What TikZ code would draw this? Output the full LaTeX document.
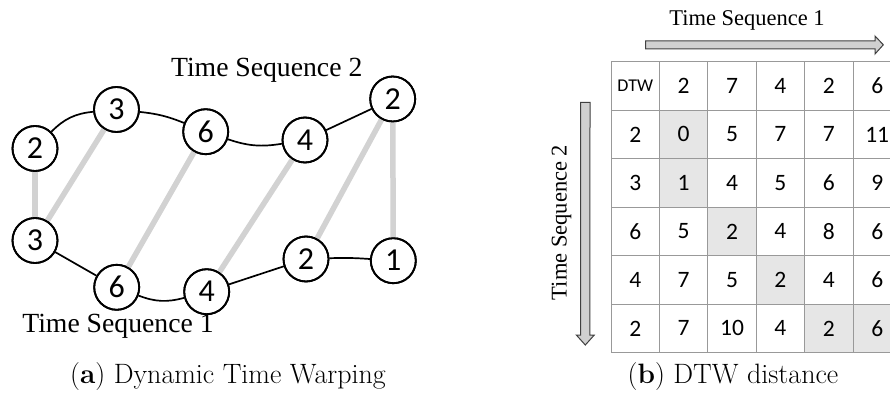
\documentclass[tikz,border=0pt]{standalone}
\usepackage{fontspec}
\newfontfamily\timesfont{Liberation Serif}
\newfontfamily\calibrifont{Carlito}
\begin{document}
\begin{tikzpicture}[x=1pt,y=1pt,
  seqnode/.style={circle,draw=black,line width=1.8pt,minimum size=45pt,inner sep=0pt,
    font=\calibrifont\fontsize{32}{32}\selectfont},
  seqlink/.style={line width=1.7pt,black},
  warp/.style={line width=5.5pt,draw=warpgray},
  seqlabel/.style={font=\timesfont\fontsize{27.7}{28}\selectfont,inner sep=0pt},
  axislabel/.style={font=\timesfont\fontsize{22.5}{23}\selectfont,inner sep=0pt},
  caption/.style={font=\fontsize{28}{29}\selectfont,inner sep=0pt},
  cell/.style={draw=gridgray,line width=0.9pt,minimum width=48.4pt,minimum height=48.5pt,
    inner sep=0pt,font=\calibrifont\fontsize{23.5}{24}\selectfont},
  hlcell/.style={fill=hlgray,minimum width=48.4pt,minimum height=48.5pt,inner sep=0pt},
  blockarrow/.style={draw=arrowedge,fill=arrowfill,line width=1pt,line join=miter}]
\definecolor{warpgray}{HTML}{D2D2D2}
\definecolor{gridgray}{HTML}{999999}
\definecolor{hlgray}{HTML}{E6E6E6}
\definecolor{arrowfill}{HTML}{D0D0D0}
\definecolor{arrowedge}{HTML}{404040}
\clip (0,0) rectangle (890,397);
\fill[white] (0,0) rectangle (890,397);

% ---- (a) two sequences and their warping path ----
\node[seqnode] (a1) at (35,248.5) {2};
\node[seqnode] (a2) at (116.5,287.5) {3};
\node[seqnode] (a3) at (205.7,265.3) {6};
\node[seqnode] (a4) at (305,257) {4};
\node[seqnode] (a5) at (392.7,298) {2};
\node[seqnode] (b1) at (35,156.5) {3};
\node[seqnode] (b2) at (116.7,109.7) {6};
\node[seqnode] (b3) at (206.7,105.3) {4};
\node[seqnode] (b4) at (306,138) {2};
\node[seqnode] (b5) at (393.3,136.3) {1};

% warping path between the two sequences
\draw[warp] (a1) -- (b1);
\draw[warp] (a2) -- (b1);
\draw[warp] (a3) -- (b2);
\draw[warp] (a4) -- (b3);
\draw[warp] (a5) -- (b4);
\draw[warp] (a5) -- (b5);

% the sequences themselves
\draw[seqlink] (a1) to[bend left=20] (a2);
\draw[seqlink] (a2) to[bend left=8] (a3);
\draw[seqlink] (a3) to[bend right=14] (a4);
\draw[seqlink] (a4) -- (a5);
\draw[seqlink] (b1) -- (b2);
\draw[seqlink] (b2) to[bend right=18] (b3);
\draw[seqlink] (b3) -- (b4);
\draw[seqlink] (b4) to[bend left=3] (b5);

% redraw circles over the warping lines
\foreach \n in {a1,a2,a3,a4,a5,b1,b2,b3,b4,b5}
  \draw[line width=1.8pt] (\n.center) circle (22.5pt);

\node[seqlabel] (ts2) at (266.7,327) {Time Sequence 2};
\node[seqlabel] (ts1) at (118,70.3) {Time Sequence 1};

% ---- (b) accumulated DTW distance matrix ----
\foreach \r/\c in {1/1,2/1,3/2,4/3,5/4,5/5}
  \node[hlcell] (h\r\c) at ({611+48.4*(\c+0.5)},{335.3-48.5*(\r+0.5)}) {};

\newcommand\dtwhead{{\fontsize{18}{18}\selectfont DTW}}
\foreach \rowvals [count=\r from 0] in {{\dtwhead,2,7,4,2,6},{2,0,5,7,7,11},{3,1,4,5,6,9},
    {6,5,2,4,8,6},{4,7,5,2,4,6},{2,7,10,4,2,6}} {
  \foreach \v [count=\c from 0] in \rowvals
    \node[cell] (t\r\c) at ({611+48.4*(\c+0.5)},{335.3-48.5*(\r+0.5)}) {\v};
}

% axis arrows
\coordinate (hs) at (645.7,352.2);
\coordinate (vs) at (585.3,294.7);
\draw[blockarrow] (hs) ++(0,-4.2) -- ++(229.3,0) -- ++(0,-5) -- (883.3,352.2)
  -- (875,361) -- ++(0,-4.8) -- (645.7,356.2) -- cycle;
\draw[blockarrow] (vs) ++(-4.6,0) -- ++(9.3,0) -- (589.9,62) -- (594.3,62)
  -- (585.3,52) -- (576.3,62) -- (580.7,62) -- cycle;

\node[axislabel] (ax1) at (747,377) {Time Sequence 1};
\node[axislabel,rotate=90] (ax2) at (561.5,174.5) {Time Sequence 2};

% ---- captions ----
\node[caption] (capa) at (228,20) {(\textbf{a}) Dynamic Time Warping};
\node[caption] (capb) at (733,20) {(\textbf{b}) DTW distance};
\end{tikzpicture}
\end{document}
